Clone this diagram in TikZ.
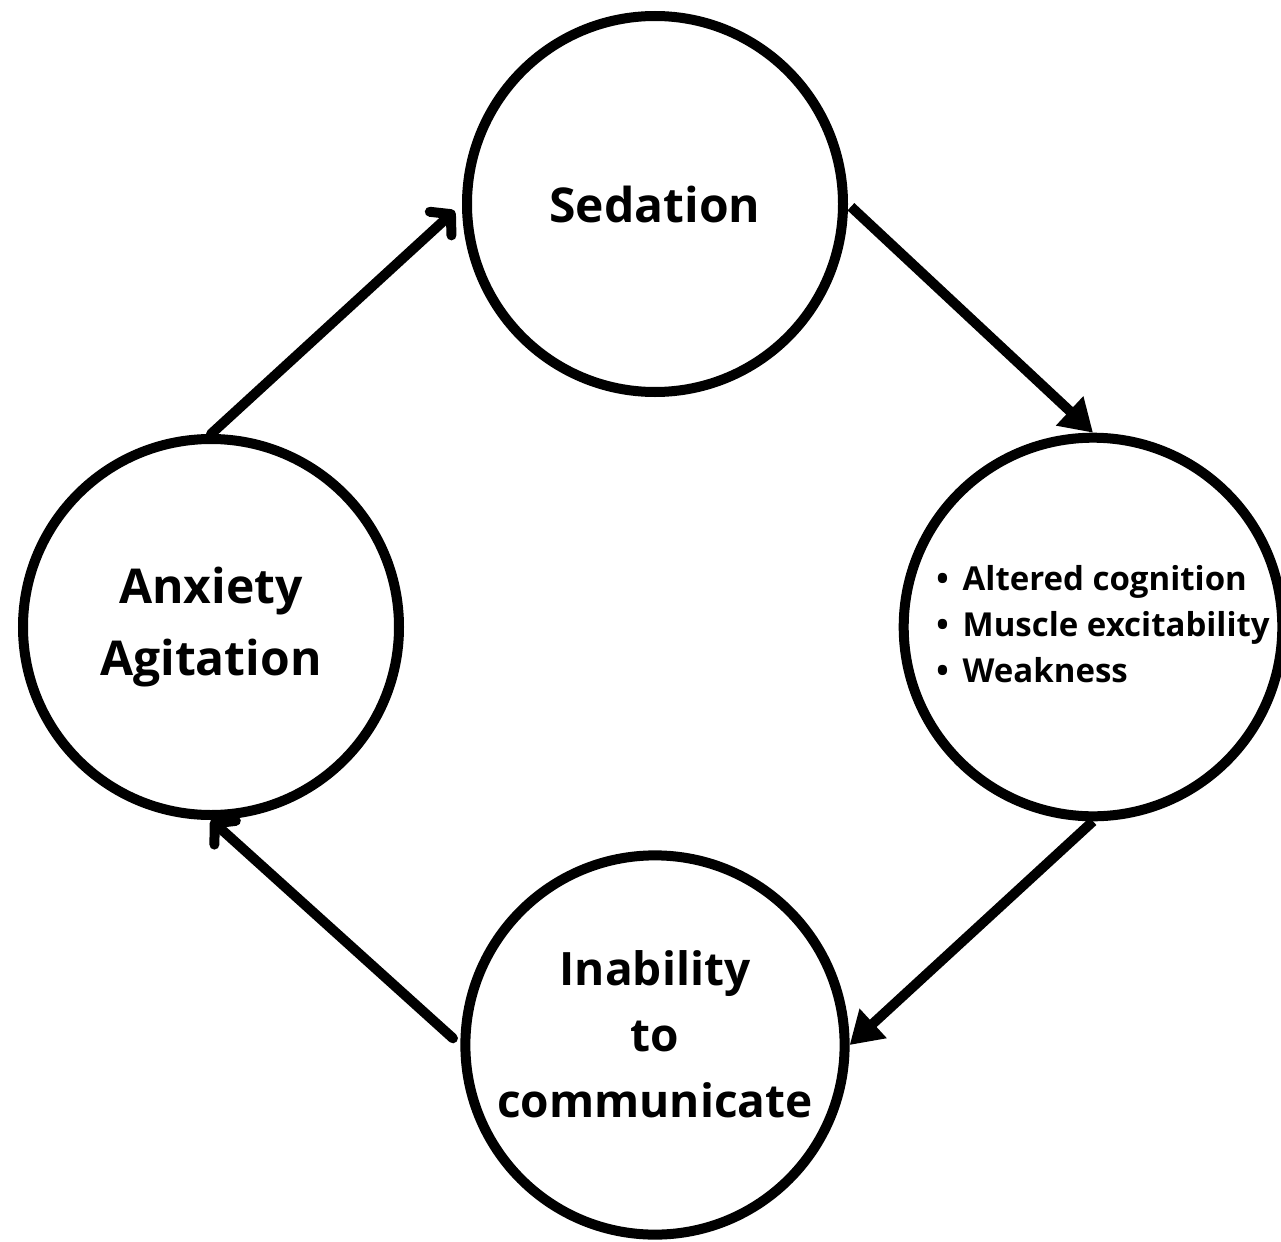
\documentclass[tikz,border=0pt]{standalone}
\usepackage{fontspec}
\setmainfont{Open Sans}
\usetikzlibrary{arrows.meta, positioning}

\begin{document}
\begin{tikzpicture}
            [x=0.5pt, y=-0.5pt, line width=5pt, on grid,
            stage/.style={circle, draw=black, minimum size=188pt, inner sep=0pt, align=center,
              font=\bfseries\fontsize{24}{36}\selectfont},
            openarrow/.style={-{Straight Barb[length=7pt, width=16pt, line cap=round, line join=round]}, line cap=round},
            fullarrow/.style={-{Triangle[length=16pt, width=19pt]}}]

            \useasboundingbox (0,0) rectangle (1281,1242);

            \node[stage] (anx) at (211,627) {Anxiety\\Agitation};
            \node[stage] (sed) [above right = 211.5pt and 222pt of anx] {Sedation};
            \node[stage] (alt) [right = 441pt of anx]
              {\hspace*{10pt}\fontsize{16.5}{23}\selectfont
               \begin{tabular}{@{}l@{\hspace{7pt}}l@{}}
               \textbullet & Altered cognition\\
               \textbullet & Muscle excitability\\
               \textbullet & Weakness
               \end{tabular}};
            \node[stage] (com) [below right = 209pt and 222pt of anx]
              {\fontsize{23}{33}\selectfont\raisebox{0pt}[\height][\dimexpr\depth+7pt\relax]{\begin{tabular}{@{}c@{}}Inability\\to\\communicate\end{tabular}}};

            \draw[openarrow, shorten >=5pt] (anx.north) -- (sed.west);
            \draw[fullarrow, shorten <=2pt] (sed.east) -- (alt.north);
            \draw[fullarrow] (alt.south) -- (com.east);
            \draw[openarrow, shorten <=5pt] (com.west) -- (anx.south);

          \end{tikzpicture}
\end{document}
